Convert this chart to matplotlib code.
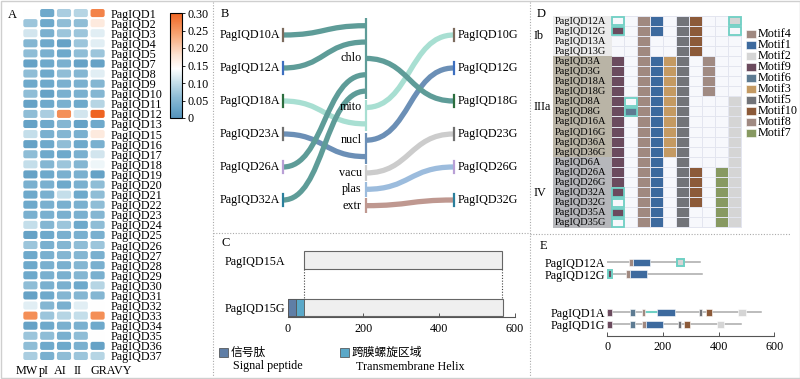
import numpy as np
import matplotlib
matplotlib.use('Agg')
import matplotlib.pyplot as plt
from matplotlib.patches import Rectangle, FancyBboxPatch, PathPatch
from matplotlib.path import Path
from matplotlib.colors import LinearSegmentedColormap, Normalize
from matplotlib.cm import ScalarMappable
import matplotlib.transforms as mtrans

plt.rcParams['font.family'] = ['Liberation Serif', 'Noto Sans CJK SC', 'DejaVu Sans']
plt.rcParams['font.size'] = 8.7

# ---------------- A: heatmap data
a_ids = [1, 2, 3, 4, 5, 7, 8, 9, 10, 11, 12, 13, 15, 16, 17, 18, 19, 20, 21, 22,
         23, 24, 25, 26, 27, 28, 29, 30, 31, 32, 33, 34, 35, 36, 37]
a_genes = ['PagIQD%d' % k for k in a_ids]
a_props = ['MW', 'pI', 'AI', 'II', 'GRAVY']
mw = [0.14, 0.07, 0.11, 0.05, 0.06, 0.02, 0.06, 0.03, 0.06, 0.02, 0.06, 0.02, 0.10, 0.02, 0.06,
      0.10, 0.02, 0.04, 0.03, 0.03, 0.04, 0.10, 0.02, 0.07, 0.03, 0.03, 0.03, 0.06, 0.02, 0.12,
      0.26, 0.02, 0.07, 0.06, 0.08]
pi = [0.03, 0.03, 0.04, 0.03, 0.04, 0.03, 0.03, 0.03, 0.02, 0.03, 0.08, 0.03, 0.04, 0.03, 0.03,
      0.05, 0.03, 0.04, 0.04, 0.04, 0.04, 0.05, 0.03, 0.04, 0.04, 0.04, 0.04, 0.04, 0.03, 0.05,
      0.07, 0.03, 0.06, 0.03, 0.04]
ai = [0.08, 0.06, 0.07, 0.02, 0.03, 0.04, 0.06, 0.04, 0.04, 0.04, 0.26, 0.05, 0.05, 0.06, 0.03,
      0.07, 0.04, 0.03, 0.10, 0.04, 0.04, 0.07, 0.04, 0.05, 0.05, 0.04, 0.04, 0.04, 0.05, 0.04,
      0.09, 0.04, 0.04, 0.03, 0.06]
ii = [0.09, 0.06, 0.07, 0.07, 0.06, 0.02, 0.05, 0.04, 0.04, 0.03, 0.11, 0.02, 0.04, 0.03, 0.04,
      0.05, 0.04, 0.04, 0.03, 0.04, 0.04, 0.03, 0.04, 0.06, 0.05, 0.05, 0.05, 0.03, 0.05, 0.12,
      0.10, 0.04, 0.06, 0.04, 0.07]
gravy = [0.27, 0.17, 0.12, 0.12, 0.07, 0.02, 0.12, 0.05, 0.05, 0.09, 0.30, 0.03, 0.17, 0.04, 0.11,
         0.13, 0.02, 0.06, 0.06, 0.06, 0.05, 0.06, 0.04, 0.07, 0.04, 0.04, 0.04, 0.09, 0.05, 0.14,
         0.26, 0.03, 0.14, 0.02, 0.09]
a_ticks = [0, 0.05, 0.10, 0.15, 0.20, 0.25, 0.30]

# ---------------- B: subcellular localisation
b_left = ['PagIQD10A', 'PagIQD12A', 'PagIQD18A', 'PagIQD23A', 'PagIQD26A', 'PagIQD32A']
b_right = ['PagIQD10G', 'PagIQD12G', 'PagIQD18G', 'PagIQD23G', 'PagIQD26G', 'PagIQD32G']
b_left_loc = ['chlo', 'chlo', 'mito', 'nucl', 'chlo', 'chlo']
b_right_loc = ['mito', 'nucl', 'chlo', 'vacu', 'plas', 'extr']
b_locs = ['chlo', 'mito', 'nucl', 'vacu', 'plas', 'extr']
b_loc_colors = ['#5e9c98', '#a8dfd2', '#6b8fb6', '#cccccc', '#9cbcdd', '#bf9890']
b_gene_colors = ['#7b6b5d', '#3d6fc0', '#2d6e3e', '#707070', '#b9a0d6', '#2a7f9c']

# ---------------- C: signal peptide / TM helix
c_genes = ['PagIQD15A', 'PagIQD15G']
c_start = [44, 0]
c_end = [567, 569]
c_signal = (0, 22)
c_tm = (22, 44)

# ---------------- D: motif table
d_genes = ['PagIQD12A', 'PagIQD12G', 'PagIQD13A', 'PagIQD13G',
           'PagIQD3A', 'PagIQD3G', 'PagIQD18A', 'PagIQD18G', 'PagIQD8A', 'PagIQD8G',
           'PagIQD16A', 'PagIQD16G', 'PagIQD36A', 'PagIQD36G',
           'PagIQD6A', 'PagIQD26A', 'PagIQD26G', 'PagIQD32A', 'PagIQD32G', 'PagIQD35A', 'PagIQD35G']
d_groups = ['Ib'] * 4 + ['IIIa'] * 10 + ['IV'] * 7
d_cols = ['Motif9', 'Motif6', 'Motif4', 'Motif1', 'Motif3', 'Motif5', 'Motif10', 'Motif8', 'Motif7', 'Motif2']
d_presence = ['0011011001', '1011011000', '0010011000', '0010011000',
              '1011110100', '1011110100', '1011110100', '1011110100',
              '1011110001', '1111110001', '1011110001', '1011110001', '1011110001', '1011110001',
              '1011010001', '1011011011', '1011011011', '1011011011', '0011011011',
              '1011010011', '0011010011']
d_highlight = [(0, 0), (1, 0), (0, 9), (1, 9), (8, 1), (9, 1), (17, 0), (18, 0), (19, 0), (20, 0)]
group_colors = {'Ib': '#ebebeb', 'IIIa': '#b9b4a6', 'IV': '#b6b7bb'}

motif_names = ['Motif4', 'Motif1', 'Motif2', 'Motif9', 'Motif6', 'Motif3', 'Motif5', 'Motif10', 'Motif8', 'Motif7']
motif_colors = {'Motif4': '#a08980', 'Motif1': '#3d6a9e', 'Motif2': '#d5d5d5', 'Motif9': '#6b4b5e',
                'Motif6': '#5d7b92', 'Motif3': '#c49a63', 'Motif5': '#727479', 'Motif10': '#8c5a39',
                'Motif8': '#a08a82', 'Motif7': '#879961'}

# ---------------- E: motif positions
e_genes = ['PagIQD12A', 'PagIQD12G', 'PagIQD1A', 'PagIQD1G']
e_length = [333, 339, 554, 479]
e_motifs = [
    [('Motif4', 78, 91), ('Motif1', 91, 153), ('Motif2', 251, 275)],
    [('Motif9', 2, 16), ('Motif4', 67, 80), ('Motif1', 80, 144)],
    [('Motif9', 0, 18), ('Motif6', 82, 100), ('Motif4', 125, 137), ('Motif1', 178, 242),
     ('Motif5', 330, 341), ('Motif10', 354, 375), ('Motif2', 470, 497)],
    [('Motif9', 0, 18), ('Motif6', 82, 100), ('Motif4', 123, 138), ('Motif1', 138, 201),
     ('Motif5', 253, 264), ('Motif10', 276, 298), ('Motif2', 393, 419)],
]
e_highlight = [(0, 'Motif2'), (1, 'Motif9')]
e_linker = (2, 137, 178)

W, H = 800, 379
teal = '#6fd0c4'


def box(x0, y0, x1, y1):
    return [x0 / W, 1 - y1 / H, (x1 - x0) / W, (y1 - y0) / H]


fig = plt.figure(figsize=(8, 3.79), dpi=100)
ov = fig.add_axes([0, 0, 1, 1])
ov.set_xlim(0, W)
ov.set_ylim(H, 0)
ov.axis('off')

# frame and dividers
ov.add_patch(Rectangle((0.5, 0.5), 799, 377.5, fill=False, ec='#cfcfcf', lw=1))
dot = dict(color='#aaaaaa', lw=0.8, ls=(0, (1, 1.5)))
ov.plot([213, 213], [2, 377], **dot)
ov.plot([530, 530], [2, 377], **dot)
ov.plot([213, 530], [233, 233], **dot)
ov.plot([530, 790], [234, 234], **dot)
for lab, x, y in [('A', 8, 15), ('B', 221, 14), ('C', 221, 243), ('D', 537, 14), ('E', 540, 246)]:
    ov.text(x, y, lab, fontsize=9, ha='left', va='center')

# ---------------- A
cmap = LinearSegmentedColormap.from_list('bw_or', [
    (0, '#5593bb'), (0.1, '#6fa9cb'), (0.2, '#8fbdd6'), (0.33, '#c3dde9'),
    (0.47, '#ffffff'), (0.6, '#fde3d3'), (0.8, '#f7a472'), (1.0, '#ef6422')])
norm = Normalize(0, 0.30)
axA = fig.add_axes(box(22, 8, 106, 361))
axA.set_facecolor('none')
n = len(a_genes)
axA.set_xlim(-0.5, 4.5)
axA.set_ylim(n - 0.5, -0.5)
for j, col in enumerate([mw, pi, ai, ii, gravy]):
    for i, v in enumerate(col):
        axA.add_patch(FancyBboxPatch((j - 0.42, i - 0.4), 0.84, 0.8,
                                     boxstyle='round,pad=0,rounding_size=0.12',
                                     mutation_aspect=1.66, fc=cmap(norm(v)), ec='none'))
axA.yaxis.tick_right()
axA.set_yticks(range(n))
axA.set_yticklabels(a_genes, fontsize=8.7)
axA.tick_params(axis='y', length=0, pad=3)
axA.set_xticks([])
for s in axA.spines.values():
    s.set_visible(False)
tr = mtrans.blended_transform_factory(axA.transData, ov.transData)
for j, p in enumerate(a_props):
    if p == 'GRAVY':
        axA.text(j - 0.45, 371, p, transform=tr, ha='left', va='center', fontsize=8.7)
    else:
        axA.text(j - 0.2, 371, p, transform=tr, ha='center', va='center', fontsize=8.7)

cax = fig.add_axes(box(170, 13, 182, 118))
cb = fig.colorbar(ScalarMappable(norm=norm, cmap=cmap), cax=cax)
cb.set_ticks(a_ticks)
cb.set_ticklabels(['0'] + ['%.2f' % t for t in a_ticks[1:]])
cb.ax.tick_params(labelsize=8.7, length=2, width=0.6, pad=2)
cb.outline.set_linewidth(0.8)

# ---------------- B
xl, xm, xr = 283, 365.7, 453.7
node_y = [35 + 33 * i for i in range(len(b_left))]
slot_y = {}
segs = []
k = 0
for loc in b_locs:
    members = [(i, 0) for i, l in enumerate(b_left_loc) if l == loc] + \
              [(i, 1) for i, l in enumerate(b_right_loc) if l == loc]
    members.sort()
    first = 25.7 + 16.36 * k
    for m in members:
        slot_y[m] = 25.7 + 16.36 * k
        k += 1
    segs.append((first, 25.7 + 16.36 * (k - 1)))


def flow(x0, y0, x1, y1, color):
    xc = (x0 + x1) / 2
    p = Path([(x0, y0), (xc, y0), (xc, y1), (x1, y1)],
             [Path.MOVETO, Path.CURVE4, Path.CURVE4, Path.CURVE4])
    ov.add_patch(PathPatch(p, fc='none', ec=color, lw=3.8, capstyle='butt'))


for i, loc in enumerate(b_left_loc):
    flow(xl, node_y[i], xm, slot_y[(i, 0)], b_loc_colors[b_locs.index(loc)])
for i, loc in enumerate(b_right_loc):
    flow(xm, slot_y[(i, 1)], xr, node_y[i], b_loc_colors[b_locs.index(loc)])

for (y0, y1), c, loc in zip(segs, b_loc_colors, b_locs):
    ov.plot([xm, xm], [y0 - 7.6, y1 + 7.6], color=c, lw=1.6, solid_capstyle='butt')
    ry = [slot_y[(i, 1)] for i, l in enumerate(b_right_loc) if l == loc][0]
    ov.text(xm - 4, ry, loc, ha='right', va='center', fontsize=8.7)

for i in range(len(b_left)):
    ov.plot([xl, xl], [node_y[i] - 6, node_y[i] + 6], color=b_gene_colors[i], lw=1.6)
    ov.plot([xr, xr], [node_y[i] - 6, node_y[i] + 6], color=b_gene_colors[i], lw=1.6)
    ov.text(xl - 3, node_y[i], b_left[i], ha='right', va='center', fontsize=8.7)
    ov.text(xr + 4, node_y[i], b_right[i], ha='left', va='center', fontsize=8.7)

# ---------------- C
axC = fig.add_axes(box(287.7, 241, 515, 317.3))
axC.set_facecolor('none')
axC.set_xlim(0, 600)
axC.set_ylim(-0.2, 1.4)
cy = [1, 0]
bh = 0.36
for i in range(len(c_genes)):
    axC.barh(cy[i], c_end[i] - c_start[i], left=c_start[i], height=bh,
             color='#efefef', edgecolor='#666666', lw=0.8)
axC.barh(0, c_signal[1] - c_signal[0], left=c_signal[0], height=bh,
         color='#5f7ea6', edgecolor='#555555', lw=0.6)
axC.barh(0, c_tm[1] - c_tm[0], left=c_tm[0], height=bh,
         color='#5aa8c8', edgecolor='#555555', lw=0.6)
for x in (c_start[0], c_end[0]):
    axC.plot([x, x], [1 - bh / 2, bh / 2], color='#444444', lw=0.8, ls=(0, (1, 1.5)))
axC.set_yticks(cy)
axC.set_yticklabels(c_genes, fontsize=8.7)
axC.tick_params(axis='y', length=0, pad=1.5)
axC.set_xticks([0, 200, 400, 600])
axC.tick_params(axis='x', direction='in', length=3, width=0.7, labelsize=8.7, pad=4, color='#555555')
for s in ['left', 'top', 'right']:
    axC.spines[s].set_visible(False)
axC.spines['bottom'].set_color('#555555')
axC.spines['bottom'].set_linewidth(0.8)

ov.add_patch(Rectangle((219, 348), 9, 9, fc='#5f7ea6', ec='#444444', lw=0.5))
ov.text(231, 352.5, '信号肽', family=['Noto Sans CJK SC'], fontsize=8.5, ha='left', va='center')
ov.text(233, 366.5, 'Signal peptide', fontsize=8.7, ha='left', va='center')
ov.add_patch(Rectangle((340, 348), 9, 9, fc='#5aa8c8', ec='#444444', lw=0.5))
ov.text(352, 352.5, '跨膜螺旋区域', family=['Noto Sans CJK SC'], fontsize=8.5, ha='left', va='center')
ov.text(355.7, 366.5, 'Transmembrane Helix', fontsize=8.7, ha='left', va='center')

# ---------------- D
lab_w = (611.7 - 553.3) / 13.0
axD = fig.add_axes(box(553.3, 16, 741.7, 228))
axD.axis('off')
nd = len(d_genes)
axD.set_xlim(-lab_w, len(d_cols))
axD.set_ylim(nd, 0)
axD.add_patch(Rectangle((0, 0), len(d_cols), nd, fc='#e3e5ef', ec='none'))
for i, g in enumerate(d_genes):
    axD.add_patch(Rectangle((-lab_w, i), lab_w, 1, fc=group_colors[d_groups[i]], ec='none'))
    axD.text(-lab_w + 0.08, i + 0.5, g, fontsize=7.5, ha='left', va='center')
    for j, m in enumerate(d_cols):
        on = d_presence[i][j] == '1'
        fc = motif_colors[m] if on else '#f7f8fc'
        if (i, j) in d_highlight:
            axD.add_patch(Rectangle((j + 0.06, i + 0.08), 0.88, 0.84, fc=fc, ec=teal, lw=1.3, zorder=3))
        else:
            axD.add_patch(Rectangle((j + 0.05, i + 0.05), 0.9, 0.9, fc=fc, ec='none'))
for grp in ['Ib', 'IIIa', 'IV']:
    rows = [i for i, g in enumerate(d_groups) if g == grp]
    yc = (rows[0] + rows[-1] + 1) / 2
    axD.text(-lab_w - 19.3 / 13.0, yc, grp, fontsize=8.7, ha='left', va='center', clip_on=False)

for k, m in enumerate(motif_names):
    y = 34.3 + 11 * k
    ov.add_patch(Rectangle((745.5, y - 4), 10.5, 8, fc=motif_colors[m], ec='white', lw=0.4))
    ov.text(757.5, y, m, fontsize=8.7, ha='left', va='center')

# ---------------- E
axE = fig.add_axes(box(607.3, 250, 774.3, 335.7))
axE.set_facecolor('none')
axE.set_xlim(0, 600)
axE.set_ylim(6.22, -1.04)
ey = [0, 1, 4.25, 5.25]
bhE = 0.62
for i, g in enumerate(e_genes):
    axE.plot([0, e_length[i]], [ey[i], ey[i]], color='#aaaaaa', lw=1.1, zorder=1)
    if e_linker[0] == i:
        axE.plot([e_linker[1], e_linker[2]], [ey[i], ey[i]], color=teal, lw=1.5, zorder=2)
    for m, s, e in e_motifs[i]:
        if (i, m) in e_highlight:
            axE.add_patch(Rectangle((s, ey[i] - bhE / 2), e - s, bhE, fc=motif_colors[m],
                                    ec=teal, lw=1.4, zorder=3))
        else:
            axE.add_patch(Rectangle((s, ey[i] - bhE / 2), e - s, bhE, fc=motif_colors[m],
                                    ec='white', lw=0.4, zorder=3))
axE.set_yticks(ey)
axE.set_yticklabels(e_genes, fontsize=8.7)
axE.tick_params(axis='y', length=0, pad=1.7)
axE.set_xticks([0, 200, 400, 600])
axE.tick_params(axis='x', direction='in', length=3, width=0.7, labelsize=8.7, pad=4, color='#555555')
for s in ['left', 'top', 'right']:
    axE.spines[s].set_visible(False)
axE.spines['bottom'].set_color('#555555')
axE.spines['bottom'].set_linewidth(0.8)

fig.savefig('out.png', dpi=100)
